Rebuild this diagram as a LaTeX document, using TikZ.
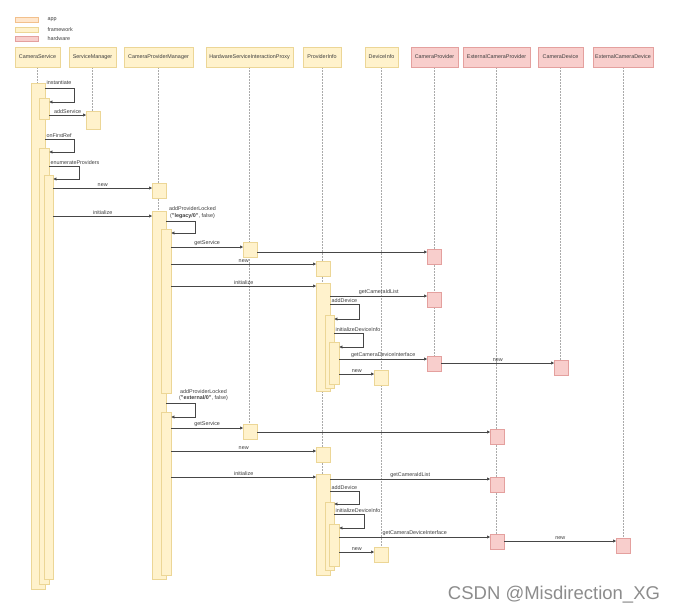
\documentclass[tikz,border=0pt]{standalone}
\usepackage{fontspec}
\setmainfont{Liberation Sans}
\usetikzlibrary{arrows.meta,positioning,backgrounds}
\definecolor{FwFill}{RGB}{255,242,204}
\definecolor{FwLine}{RGB}{236,214,150}
\definecolor{HwFill}{RGB}{248,206,204}
\definecolor{HwLine}{RGB}{228,160,158}
\definecolor{AppFill}{RGB}{255,230,204}
\definecolor{AppLine}{RGB}{242,192,140}
\definecolor{LineGray}{RGB}{70,70,70}
\definecolor{LifeGray}{RGB}{170,170,170}
\definecolor{TextGray}{RGB}{60,60,60}
\definecolor{MarkGray}{RGB}{140,140,140}

\tikzset{
  head/.style={draw=FwLine, fill=FwFill, minimum height=20pt, inner sep=1pt, text=TextGray},
  hwhead/.style={head, draw=HwLine, fill=HwFill},
  fwbar/.style={draw=FwLine, fill=FwFill, inner sep=0pt, anchor=north west, minimum width=14pt, minimum height=15pt},
  hwbox/.style={fwbar, draw=HwLine, fill=HwFill},
  keybox/.style={inner sep=0pt, anchor=north west, minimum width=23pt, minimum height=5pt},
  life/.style={draw=LifeGray, dash pattern=on 1.5pt off 1.5pt, line width=0.5pt},
  msg/.style={draw=LineGray, line width=0.6pt, -{Triangle[length=3pt,width=3pt]}},
  lbl/.style={text=TextGray, inner sep=1pt},
}

\begin{document}
\begin{tikzpicture}[x=1pt, y=-1pt, font=\fontsize{5.4}{6.4}\selectfont]
\useasboundingbox (0,0) rectangle (675,613);

% legend
\node[keybox, draw=AppLine, fill=AppFill] (keyApp) at (15,17) {};
\node[keybox, draw=FwLine, fill=FwFill] (keyFw) at (15,26.5) {};
\node[keybox, draw=HwLine, fill=HwFill] (keyHw) at (15,35.5) {};
\node[lbl, right=8pt of keyApp] {app};
\node[lbl, right=8pt of keyFw] {framework};
\node[lbl, right=8pt of keyHw] {hardware};

% participants
\node[head, minimum width=45pt] (camService) at (37.5,57) {CameraService};
\node[head, minimum width=47pt] (svcManager) at (92.5,57) {ServiceManager};
\node[head, minimum width=69pt] (provManager) at (158.5,57) {CameraProviderManager};
\node[head, minimum width=87pt] (hwProxy) at (249.5,57) {HardwareServiceInteractionProxy};
\node[head, minimum width=38pt] (provInfo) at (322,57) {ProviderInfo};
\node[head, minimum width=33pt] (devInfo) at (381.5,57) {DeviceInfo};
\node[hwhead, minimum width=47pt] (camProvider) at (434.5,57) {CameraProvider};
\node[hwhead, minimum width=67pt] (extProvider) at (496.5,57) {ExternalCameraProvider};
\node[hwhead, minimum width=45pt] (camDevice) at (560.5,57) {CameraDevice};
\node[hwhead, minimum width=60pt] (extDevice) at (623,57) {ExternalCameraDevice};

% activations
\node[fwbar, minimum height=506pt] (csBarA) at (31,83) {};
\node[fwbar, minimum width=10pt, minimum height=21pt] (csBarB) at (39,98) {};
\node[fwbar, minimum width=10pt, minimum height=436pt] (csBarC) at (39,148) {};
\node[fwbar, minimum width=9pt, minimum height=404pt] (csBarD) at (44,175) {};
\node[fwbar, minimum height=18pt] (smAct) at (86,111) {};

\node[fwbar] (cpmNew) at (152,183) {};
\node[fwbar, minimum height=368pt] (cpmBarA) at (152,211) {};
\node[fwbar, minimum width=10pt, minimum height=164pt] (cpmBarB) at (161,229) {};
\node[fwbar, minimum width=10pt, minimum height=163pt] (cpmBarC) at (161,412) {};

\node[fwbar] (hsipAct1) at (243,242) {};
\node[fwbar] (hsipAct2) at (243,424) {};

\node[fwbar] (piNew1) at (316,261) {};
\node[fwbar, minimum height=108pt] (piBarA) at (316,283) {};
\node[fwbar, minimum width=9pt, minimum height=73pt] (piBarB) at (325,315) {};
\node[fwbar, minimum width=10pt, minimum height=42pt] (piBarC) at (329,342) {};
\node[fwbar] (piNew2) at (316,447) {};
\node[fwbar, minimum height=101pt] (piBarD) at (316,474) {};
\node[fwbar, minimum width=9pt, minimum height=68pt] (piBarE) at (325,502) {};
\node[fwbar, minimum width=10pt, minimum height=42pt] (piBarF) at (329,524) {};

\node[fwbar] (diNew1) at (374,370) {};
\node[fwbar] (diNew2) at (374,547) {};

\node[hwbox] (cpAct1) at (427,249) {};
\node[hwbox] (cpAct2) at (427,292) {};
\node[hwbox] (cpAct3) at (427,356) {};
\node[hwbox] (ecpAct1) at (490,429) {};
\node[hwbox] (ecpAct2) at (490,477) {};
\node[hwbox] (ecpAct3) at (490,534) {};
\node[hwbox] (cdNew) at (554,360) {};
\node[hwbox] (ecdNew) at (616,538) {};

% lifelines
\begin{pgfonlayer}{background}
\draw[life] (camService.south) -- (camService.south |- csBarA.north);
\draw[life] (svcManager.south) -- (svcManager.south |- smAct.north);
\draw[life] (provManager.south) -- (provManager.south |- cpmBarA.north);
\draw[life] (hwProxy.south) -- (hwProxy.south |- hsipAct2.north);
\draw[life] (provInfo.south) -- (provInfo.south |- piBarD.north);
\draw[life] (devInfo.south) -- (devInfo.south |- diNew2.north);
\draw[life] (camProvider.south) -- (camProvider.south |- cpAct3.north);
\draw[life] (extProvider.south) -- (extProvider.south |- ecpAct3.north);
\draw[life] (camDevice.south) -- (camDevice.south |- cdNew.north);
\draw[life] (extDevice.south) -- (extDevice.south |- ecdNew.north);
\end{pgfonlayer}

% startup
\draw[msg] ([yshift=-5pt]csBarA.north east) -- ++(29,0) node[lbl, pos=0, anchor=south west, yshift=2pt] {instantiate} |- ([yshift=-4pt]csBarB.north east);
\draw[msg] (csBarB.east |- 0,115) -- node[lbl, above] {addService} (smAct.west |- 0,115);
\draw[msg] (csBarA.east |- 0,139) -- ++(29,0) node[lbl, pos=0, anchor=south west] {onFirstRef} |- ([yshift=-4pt]csBarC.north east);
\draw[msg] (csBarC.east |- 0,166) -- ++(30,0) node[lbl, pos=0, anchor=south west] {enumerateProviders} |- ([yshift=-4pt]csBarD.north east);
\draw[msg] (csBarD.east |- 0,188) -- node[lbl, above] {new} (cpmNew.west |- 0,188);
\draw[msg] (csBarD.east |- 0,216) -- node[lbl, above] {initialize} (cpmBarA.west |- 0,216);

% legacy provider
\node[lbl, align=center] (lockLegacy) at (192.5,212.5) {addProviderLocked\\(\textbf{"legacy/0"}, false)};
\draw[msg] (cpmBarA.east |- 0,221) -- ++(29,0) |- ([yshift=-4pt]cpmBarB.north east);
\draw[msg] (cpmBarB.east |- 0,247) -- node[lbl, above] {getService} (hsipAct1.west |- 0,247);
\draw[msg] (hsipAct1.east |- 0,252) -- (cpAct1.west |- 0,252);
\draw[msg] (cpmBarB.east |- 0,264) -- node[lbl, above] {new} (piNew1.west |- 0,264);
\draw[msg] (cpmBarB.east |- 0,286) -- node[lbl, above] {initialize} (piBarA.west |- 0,286);
\draw[msg] (piBarA.east |- 0,296) -- node[lbl, above] {getCameraIdList} (cpAct2.west |- 0,296);
\draw[msg] (piBarA.east |- 0,304) -- ++(29,0) node[lbl, pos=0, anchor=south west] {addDevice} |- ([yshift=-4pt]piBarB.north east);
\draw[msg] (piBarB.east |- 0,333) -- ++(29,0) node[lbl, pos=0, anchor=south west] {initializeDeviceInfo} |- ([yshift=-5pt]piBarC.north east);
\draw[msg] (piBarC.east |- 0,359) -- node[lbl, above] {getCameraDeviceInterface} (cpAct3.west |- 0,359);
\draw[msg] (cpAct3.east |- 0,363) -- node[lbl, above] {new} (cdNew.west |- 0,363);
\draw[msg] (piBarC.east |- 0,374) -- node[lbl, above] {new} (diNew1.west |- 0,374);

% external provider
\node[lbl, align=center] (lockExternal) at (203.5,395) {addProviderLocked\\(\textbf{"external/0"}, false)};
\draw[msg] (cpmBarA.east |- 0,403) -- ++(29,0) |- ([yshift=-5pt]cpmBarC.north east);
\draw[msg] (cpmBarC.east |- 0,428) -- node[lbl, above] {getService} (hsipAct2.west |- 0,428);
\draw[msg] (hsipAct2.east |- 0,432) -- (ecpAct1.west |- 0,432);
\draw[msg] (cpmBarC.east |- 0,451) -- node[lbl, above] {new} (piNew2.west |- 0,451);
\draw[msg] (cpmBarC.east |- 0,477) -- node[lbl, above] {initialize} (piBarD.west |- 0,477);
\draw[msg] (piBarD.east |- 0,479) -- node[lbl, above] {getCameraIdList} (ecpAct2.west |- 0,479);
\draw[msg] (piBarD.east |- 0,491) -- ++(29,0) node[lbl, pos=0, anchor=south west] {addDevice} |- ([yshift=-2pt]piBarE.north east);
\draw[msg] (piBarE.east |- 0,514) -- ++(30,0) node[lbl, pos=0, anchor=south west] {initializeDeviceInfo} |- ([yshift=-4pt]piBarF.north east);
\draw[msg] (piBarF.east |- 0,537) -- node[lbl, above] {getCameraDeviceInterface} (ecpAct3.west |- 0,537);
\draw[msg] (ecpAct3.east |- 0,541) -- node[lbl, above] {new} (ecdNew.west |- 0,541);
\draw[msg] (piBarF.east |- 0,552) -- node[lbl, above] {new} (diNew2.west |- 0,552);

% watermark
\node[text=MarkGray, font=\fontsize{18.5}{20}\selectfont] (mark) at (554,595) {CSDN @Misdirection\_XG};
\end{tikzpicture}
\end{document}
